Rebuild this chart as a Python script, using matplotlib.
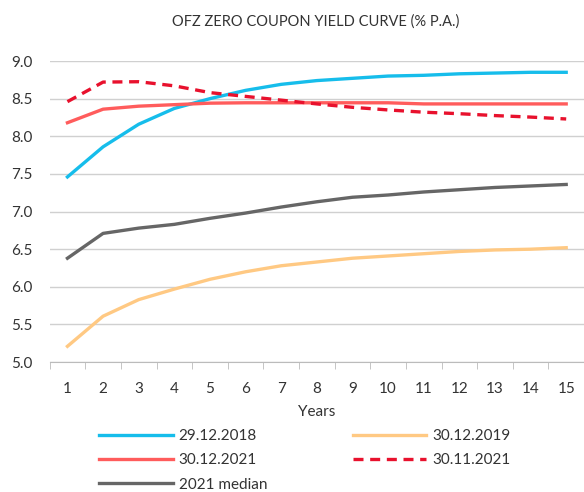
import matplotlib.pyplot as plt
from matplotlib.ticker import MultipleLocator

years = list(range(1, 16))
y2018 = [7.46, 7.86, 8.16, 8.37, 8.50, 8.61, 8.69, 8.74, 8.77, 8.80, 8.81, 8.83, 8.84, 8.85, 8.85]
y2019 = [5.21, 5.61, 5.83, 5.97, 6.10, 6.20, 6.28, 6.33, 6.38, 6.41, 6.44, 6.47, 6.49, 6.50, 6.52]
y2021 = [8.18, 8.36, 8.40, 8.42, 8.44, 8.445, 8.445, 8.445, 8.445, 8.445, 8.43, 8.43, 8.43, 8.43, 8.43]
y2021nov = [8.46, 8.72, 8.725, 8.67, 8.58, 8.53, 8.48, 8.43, 8.385, 8.35, 8.32, 8.30, 8.275, 8.255, 8.23]
median2021 = [6.38, 6.71, 6.78, 6.83, 6.91, 6.98, 7.06, 7.13, 7.19, 7.22, 7.26, 7.29, 7.32, 7.34, 7.36]

plt.rcParams['font.family'] = ['Lato', 'DejaVu Sans']
txt = '#333333'

fig = plt.figure(figsize=(5.84, 4.92), dpi=100)
ax = fig.add_axes([0.085, 0.264, 0.915, 0.612])

l1, = ax.plot(years, y2018, color='#16BDEB', lw=2.4, label='29.12.2018')
l2, = ax.plot(years, y2019, color='#FFC983', lw=2.4, label='30.12.2019')
l3, = ax.plot(years, y2021, color='#FF5C5C', lw=2.4, label='30.12.2021')
l4, = ax.plot(years, y2021nov, color='#E8112D', lw=2.4, ls=(0, (3, 2)), label='30.11.2021')
l5, = ax.plot(years, median2021, color='#666666', lw=2.4, label='2021 median')

ax.set_xlim(0.5, 15.5)
ax.set_ylim(5.0, 9.0)
ax.yaxis.set_major_locator(MultipleLocator(0.5))
ax.yaxis.set_major_formatter(lambda v, p: f'{v:.1f}')
ax.set_xticks(years)
ax.set_xticks([i + 0.5 for i in range(0, 16)], minor=True)
ax.tick_params(axis='x', which='major', length=0, pad=14, labelsize=11, colors=txt)
ax.tick_params(axis='x', which='minor', length=5, color='#bbbbbb')
ax.tick_params(axis='y', length=0, pad=12, labelsize=11, colors=txt)
ax.grid(axis='y', color='#d0d0d0', lw=1)
for s in ['left', 'right', 'top']:
    ax.spines[s].set_visible(False)
ax.spines['bottom'].set_color('#bbbbbb')
ax.set_axisbelow(True)
ax.set_clip_on(False)

ax.set_xlabel('Years', fontsize=11, color=txt, labelpad=7)
fig.text(0.54, 0.957, 'OFZ ZERO COUPON YIELD CURVE (% P.A.)', ha='center', va='center',
         fontsize=10.5, color=txt)

fig.legend(handles=[l1, l3, l5, l2, l4], ncol=2, loc='upper left',
           bbox_to_anchor=(0.17, 0.128), frameon=False, fontsize=11,
           handlelength=4.8, handletextpad=0.4, columnspacing=5.6,
           labelspacing=0.68, labelcolor=txt, borderaxespad=0, borderpad=0)

fig.savefig('out.png', dpi=100)
